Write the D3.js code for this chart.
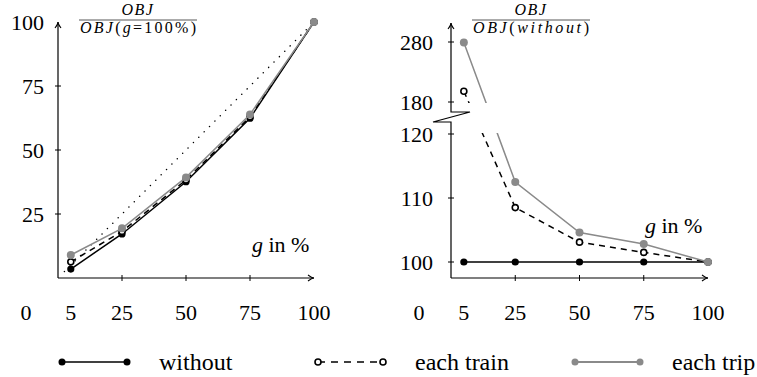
<!DOCTYPE html>
<html><head><meta charset="utf-8">
<script src="https://cdn.jsdelivr.net/npm/d3@7"></script>
</head><body style="margin:0;background:#fff">
<script>
// ---- data ----
const gValues = [5, 25, 50, 75, 100];
const xTickLabels = ["0", "5", "25", "50", "75", "100"];
const leftWithout = [3.5, 17.2, 37.6, 62.4, 100];
const leftEachTrain = [6.3, 18.2, 38.3, 63.0, 100];
const leftEachTrip = [9.0, 19.4, 39.3, 63.9, 100];
const leftDiagonal = [[2.5, 2.5], [100, 100]];
const leftYTicks = [25, 50, 75, 100];
const rightWithout = [100, 100, 100, 100, 100];
const rightEachTrain = [198, 108.5, 103.1, 101.5, 100];
const rightEachTrip = [279, 112.5, 104.6, 102.8, 100];
const rightYTicks = [100, 110, 120, 180, 280];
const seriesNames = ["without", "each train", "each trip"];

const W = 757, H = 377;
const GRAY = "#8a8a8a";
const FONT = "Liberation Serif";
const svg = d3.select("body").append("svg").attr("width", W).attr("height", H)
  .attr("font-family", FONT).style("display", "block");

function arrowUp(g, x, y) {
  g.append("path").attr("d", `M${x-3},${y+6} Q${x},${y+2} ${x},${y} Q${x},${y+2} ${x+3},${y+6}`)
    .attr("fill", "none").attr("stroke", "#000").attr("stroke-width", 1.1);
}
function arrowRight(g, x, y) {
  g.append("path").attr("d", `M${x-6},${y-3} Q${x-2},${y} ${x},${y} Q${x-2},${y} ${x-6},${y+3}`)
    .attr("fill", "none").attr("stroke", "#000").attr("stroke-width", 1.1);
}

function fraction(g, cx, numParts, denParts, width) {
  const num = g.append("text").attr("x", cx).attr("y", 15).attr("text-anchor", "middle")
    .attr("font-size", 16).attr("font-family", FONT).attr("letter-spacing", 1.5);
  numParts.forEach(p => num.append("tspan").attr("font-style", p[1] ? "italic" : "normal").text(p[0]));
  g.append("line").attr("x1", cx - width / 2).attr("x2", cx + width / 2).attr("y1", 20).attr("y2", 20)
    .attr("stroke", "#444").attr("stroke-width", 0.9);
  const den = g.append("text").attr("x", cx).attr("y", 33).attr("text-anchor", "middle").attr("font-size", 16)
    .attr("font-family", FONT).attr("textLength", width - 2).attr("lengthAdjust", "spacing");
  denParts.forEach(p => den.append("tspan").attr("font-style", p[1] ? "italic" : "normal").text(p[0]));
}

function drawPanel(opts) {
  const { x, y, yTop, xAxisY, yTicks, series, gx, gy, tickLabelRight, clipGap } = opts;
  const g = svg.append("g");
  g.append("line").attr("x1", x(0)).attr("x2", x(100)).attr("y1", xAxisY).attr("y2", xAxisY)
    .attr("stroke", "#000").attr("stroke-width", 1.2);
  arrowRight(g, x(100), xAxisY);
  if (opts.breakAxis) {
    const b = opts.breakAxis;
    g.append("path").attr("d",
      `M${x(0)},${xAxisY} L${x(0)},${b.low} L${x(0)-18},${b.low} L${x(0)+19},${b.high} L${x(0)},${b.high} L${x(0)},${yTop}`)
      .attr("fill", "none").attr("stroke", "#000").attr("stroke-width", 1.2);
  } else {
    g.append("line").attr("x1", x(0)).attr("x2", x(0)).attr("y1", xAxisY).attr("y2", yTop)
      .attr("stroke", "#000").attr("stroke-width", 1.2);
  }
  arrowUp(g, x(0), yTop);
  [25, 50, 75].forEach(v => g.append("line").attr("x1", x(v)).attr("x2", x(v))
    .attr("y1", xAxisY - 3).attr("y2", xAxisY + 3).attr("stroke", "#000").attr("stroke-width", 1));
  yTicks.forEach(v => {
    if (v === 100 && opts.name === "left") return;
    g.append("line").attr("x1", x(0) - 3).attr("x2", x(0) + 3).attr("y1", y(v)).attr("y2", y(v))
      .attr("stroke", "#000").attr("stroke-width", 1);
  });
  yTicks.forEach(v => g.append("text").attr("x", tickLabelRight).attr("y", y(v)).attr("dy", "0.36em")
    .attr("text-anchor", "end").attr("font-size", 22).attr("font-family", FONT).text(v));
  xTickLabels.forEach(t => {
    const v = +t;
    const px = v === 0 ? x(0) - 32 : x(v);
    g.append("text").attr("x", px).attr("y", 320).attr("text-anchor", "middle").attr("font-size", 22)
      .attr("font-family", FONT).text(t);
  });
  const gl = g.append("text").attr("x", gx).attr("y", gy).attr("font-size", 22).attr("font-family", FONT);
  gl.append("tspan").attr("font-style", "italic").text("g");
  gl.append("tspan").text(" in %");

  let clipId = null;
  if (clipGap) {
    clipId = "clip-" + opts.name;
    const cp = svg.append("defs").append("clipPath").attr("id", clipId);
    cp.append("rect").attr("x", 0).attr("y", 0).attr("width", W).attr("height", clipGap[0]);
    cp.append("rect").attr("x", 0).attr("y", clipGap[1]).attr("width", W).attr("height", H - clipGap[1]);
  }
  const lineGen = d3.line().x(d => x(d[0])).y(d => y(d[1]));
  if (opts.diagonal) {
    g.append("path").attr("d", lineGen(opts.diagonal)).attr("fill", "none").attr("stroke", "#000")
      .attr("stroke-width", 1.4).attr("stroke-dasharray", "0.1,7.5").attr("stroke-linecap", "round");
  }
  series.forEach(s => {
    const pts = gValues.map((gv, i) => [gv, s.values[i]]);
    const p = g.append("path").attr("d", lineGen(pts)).attr("fill", "none").attr("stroke", s.color)
      .attr("stroke-width", s.width).attr("stroke-dasharray", s.dash || null);
    if (clipId) p.attr("clip-path", `url(#${clipId})`);
    pts.forEach(d => g.append("circle").attr("cx", x(d[0])).attr("cy", y(d[1])).attr("r", s.r)
      .attr("fill", s.fill).attr("stroke", s.stroke || "none").attr("stroke-width", s.stroke ? 1.6 : 0));
  });
}

const styles = [
  { color: "#000", width: 1.5, fill: "#000", r: 3.6 },
  { color: "#000", width: 1.5, dash: "6,5", fill: "#fff", stroke: "#000", r: 3 },
  { color: GRAY, width: 1.5, fill: GRAY, r: 4 }
];

const xL = d3.scaleLinear().domain([0, 100]).range([58, 314]);
const yL = d3.scaleLinear().domain([0, 100]).range([278, 22]);
drawPanel({
  name: "left", x: xL, y: yL, yTop: yL(100), xAxisY: yL(0), yTicks: leftYTicks, tickLabelRight: 44,
  gx: 252, gy: 252, diagonal: leftDiagonal,
  series: [leftWithout, leftEachTrain, leftEachTrip].map((v, i) => Object.assign({ values: v }, styles[i]))
});
fraction(svg.append("g"), 138, [["OBJ", true]],
  [["OBJ", true], ["(", false], ["g", true], ["=100%)", false]], 118);

const xR = d3.scaleLinear().domain([0, 100]).range([451, 708]);
const yR = d3.scaleLinear().domain([100, 120, 180, 280]).range([262, 134, 102, 42]);
drawPanel({
  name: "right", x: xR, y: yR, yTop: 23, xAxisY: 278, yTicks: rightYTicks, tickLabelRight: 433,
  gx: 645, gy: 233, breakAxis: { low: yR(120) - 12, high: yR(180) + 10 },
  clipGap: [yR(180) + 1, yR(120) - 1],
  series: [rightWithout, rightEachTrain, rightEachTrip].map((v, i) => Object.assign({ values: v }, styles[i]))
});
fraction(svg.append("g"), 531, [["OBJ", true]],
  [["OBJ", true], ["(", false], ["without", true], [")", false]], 118);

const legX = [62, 318, 575];
const legG = svg.append("g");
seriesNames.forEach((name, i) => {
  const s = styles[i], x0 = legX[i], x1 = x0 + 65, ly = 362;
  legG.append("line").attr("x1", x0).attr("x2", x1).attr("y1", ly).attr("y2", ly).attr("stroke", s.color)
    .attr("stroke-width", i === 2 ? 2.2 : 1.6).attr("stroke-dasharray", i === 1 ? "7,6" : null);
  [x0, x1].forEach(cx => legG.append("circle").attr("cx", cx).attr("cy", ly).attr("r", i === 1 ? 3 : 3.5)
    .attr("fill", s.fill).attr("stroke", s.stroke || "none").attr("stroke-width", s.stroke ? 1.6 : 0));
  legG.append("text").attr("x", x1 + 32).attr("y", ly).attr("dy", "0.32em").attr("font-size", 24)
    .attr("font-family", FONT).text(name);
});
</script>
</body></html>
